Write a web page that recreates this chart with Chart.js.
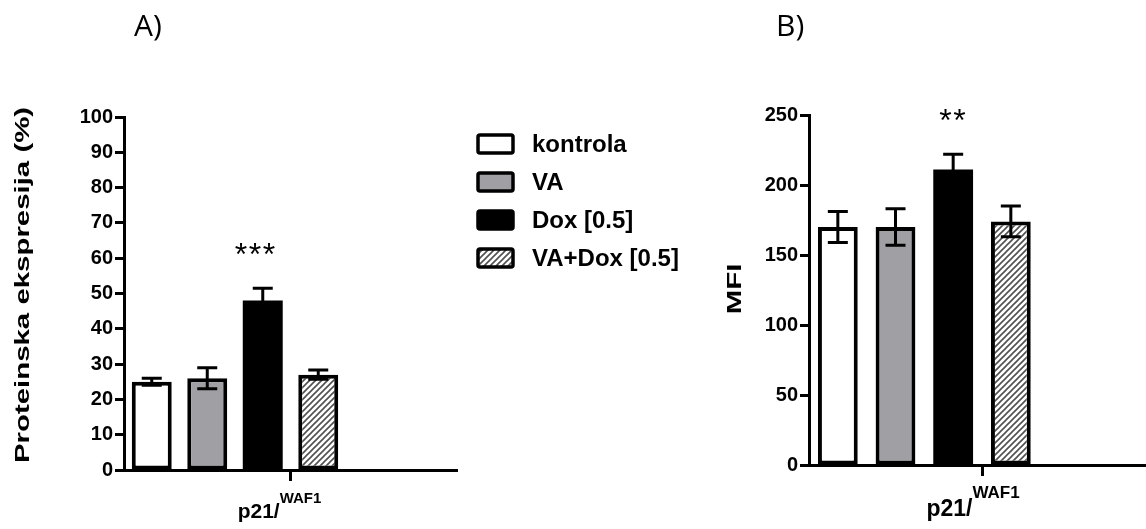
<!DOCTYPE html>
<html>
<head>
<meta charset="utf-8">
<script src="https://cdn.jsdelivr.net/npm/chart.js@4.4.1/dist/chart.umd.min.js"></script>
<style>
  html, body { margin:0; padding:0; background:#fff; overflow:hidden; width:1146px; height:529px; }
  #wrapA { position:absolute; left:0; top:0; width:740px; height:529px; }
  #wrapB { position:absolute; left:700px; top:0; width:460px; height:529px; }
</style>
</head>
<body>
<div id="wrapA"><canvas id="chartA" width="740" height="529"></canvas></div>
<div id="wrapB"><canvas id="chartB" width="460" height="529"></canvas></div>
<script>
// ---- data ----
const groups = ['kontrola', 'VA', 'Dox [0.5]', 'VA+Dox [0.5]'];
const emptySlots = [' ', '  '];
const proteinValues = [25, 26, 48, 27];
const proteinErrors = [1.0, 3.0, 3.5, 1.3];
const mfiValues = [170, 170, 211, 174];
const mfiErrors = [11, 13, 11, 11];
const proteinTicks = { min: 0, max: 100, step: 10 };
const mfiTicks = { min: 0, max: 250, step: 50 };
const proteinSig = ['', '', '***', ''];
const proteinSigAt = [null, null, 62.5, null];
const mfiSig = ['', '', '**', ''];
const mfiSigAt = [null, null, 250, null];
const panelA = 'A)';
const panelB = 'B)';
const yTitleA = 'Proteinska ekspresija (%)';
const yTitleB = 'MFI';
const xMain = 'p21/';
const xSup = 'WAF1';

const FONT = "'Liberation Sans', Arial, sans-serif";
Chart.defaults.font.family = FONT;
Chart.defaults.color = '#000';

function makeHatch() {
  const c = document.createElement('canvas');
  c.width = 6; c.height = 6;
  const g = c.getContext('2d');
  g.fillStyle = '#fff'; g.fillRect(0, 0, 6, 6);
  g.strokeStyle = '#505050'; g.lineWidth = 1.6;
  g.beginPath();
  g.moveTo(-1, 7); g.lineTo(7, -1);
  g.moveTo(-4, 4); g.lineTo(4, -4);
  g.moveTo(2, 10); g.lineTo(10, 2);
  g.stroke();
  return document.createElement('canvas').getContext('2d').createPattern(c, 'repeat');
}
const hatch = makeHatch();
const fills = ['#ffffff', '#a0a0a4', '#000000', hatch];
const borders = [4, 4, 0, 4];

const decorPlugin = {
  id: 'decor',
  afterDatasetsDraw(chart, args, opts) {
    const ctx = chart.ctx;
    const meta = chart.getDatasetMeta(0);
    const ys = chart.scales.y;
    const xs = chart.scales.x;
    // error bars
    ctx.save();
    ctx.strokeStyle = '#000';
    ctx.lineWidth = 3;
    opts.values.forEach((v, i) => {
      const bar = meta.data[i];
      const e = opts.errors[i];
      const yt = ys.getPixelForValue(v + e);
      const yb = ys.getPixelForValue(v - e);
      ctx.beginPath();
      ctx.moveTo(bar.x, yt); ctx.lineTo(bar.x, yb);
      ctx.moveTo(bar.x - 10, yt); ctx.lineTo(bar.x + 10, yt);
      ctx.moveTo(bar.x - 10, yb); ctx.lineTo(bar.x + 10, yb);
      ctx.stroke();
    });
    // significance
    ctx.fillStyle = '#000';
    ctx.font = "32px " + FONT;
    ctx.textAlign = 'center';
    ctx.textBaseline = 'middle';
    try { ctx.letterSpacing = '1.5px'; } catch (e) {}
    opts.sig.forEach((s, i) => {
      if (!s) return;
      const bar = meta.data[i];
      ctx.fillText(s, bar.x + opts.sigDx, ys.getPixelForValue(opts.sigAt[i]) + 7);
    });
    try { ctx.letterSpacing = '0px'; } catch (e) {}
    // x label with superscript
    const cx = (xs.left + xs.right) / 2 + opts.labelDx;
    ctx.font = "bold " + opts.mainSize + "px " + FONT;
    const w1 = ctx.measureText(xMain).width;
    ctx.font = "bold " + opts.supSize + "px " + FONT;
    const w2 = ctx.measureText(xSup).width;
    const x0 = cx - (w1 + w2) / 2;
    ctx.textAlign = 'left';
    ctx.textBaseline = 'alphabetic';
    ctx.font = "bold " + opts.mainSize + "px " + FONT;
    ctx.fillText(xMain, x0, opts.mainBase);
    ctx.font = "bold " + opts.supSize + "px " + FONT;
    ctx.fillText(xSup, x0 + w1, opts.supBase);
    // y title (stretched along its length)
    ctx.save();
    ctx.translate(opts.titleX, opts.titleY);
    ctx.rotate(-Math.PI / 2);
    ctx.scale(1.4, 1);
    ctx.font = "bold 21px " + FONT;
    ctx.textAlign = 'center';
    ctx.textBaseline = 'middle';
    ctx.fillText(opts.title, 0, 0);
    ctx.restore();
    // panel letter
    ctx.font = "30px 'Open Sans', Lato, sans-serif";
    ctx.textAlign = 'left';
    ctx.textBaseline = 'alphabetic';
    ctx.fillText(opts.panel, opts.panelX, 36);
    // legend
    if (opts.legend) {
      const lx = 478, ly0 = 144, step = 38;
      groups.forEach((g, i) => {
        const y = ly0 + i * step;
        ctx.fillStyle = fills[i];
        ctx.fillRect(lx, y - 9, 35, 18);
        ctx.strokeStyle = '#000';
        ctx.lineWidth = 3.5;
        ctx.beginPath();
        ctx.roundRect(lx, y - 9, 35, 18, 2);
        ctx.stroke();
        ctx.fillStyle = '#000';
        ctx.font = "bold 24px " + FONT;
        ctx.textBaseline = 'middle';
        ctx.fillText(g, 532, y + 1);
      });
    }
    ctx.restore();
  }
};

function buildChart(id, values, ticks, yWidth, xHeight, padTop, padRight, catPct, decor) {
  return new Chart(document.getElementById(id), {
    type: 'bar',
    data: {
      labels: [...groups, ...emptySlots],
      datasets: [{
        data: [...values, null, null],
        backgroundColor: fills,
        borderColor: '#000',
        borderWidth: borders,
        borderSkipped: false,
        barPercentage: 1,
        categoryPercentage: catPct
      }]
    },
    options: {
      responsive: false,
      animation: false,
      events: [],
      layout: { padding: { top: padTop, right: padRight, left: 0, bottom: 0 } },
      plugins: { legend: { display: false }, tooltip: { enabled: false }, decor: decor },
      scales: {
        x: {
          offset: true,
          ticks: { display: false },
          grid: {
            offset: true,
            drawOnChartArea: false,
            drawTicks: true,
            tickLength: 11,
            tickWidth: 3,
            tickColor: (c) => c.index === 3 ? '#000' : 'rgba(0,0,0,0)',
            color: 'rgba(0,0,0,0)'
          },
          border: { display: true, color: '#000', width: 3 },
          afterFit: (s) => { s.height = xHeight; }
        },
        y: {
          min: ticks.min, max: ticks.max,
          ticks: { stepSize: ticks.step, padding: 2, color: '#000', font: { size: 20, weight: 'bold' } },
          grid: { drawOnChartArea: false, drawTicks: true, tickLength: 9, tickWidth: 3, color: '#000', tickColor: '#000' },
          border: { display: true, color: '#000', width: 3 },
          afterFit: (s) => { s.width = yWidth; }
        }
      }
    },
    plugins: [decorPlugin]
  });
}

buildChart('chartA', proteinValues, proteinTicks, 124, 59, 117, 283, 0.72, {
  values: proteinValues, errors: proteinErrors, sig: proteinSig, sigAt: proteinSigAt, sigDx: -7,
  title: yTitleA, titleX: 23, titleY: 285, panel: panelA, panelX: 134, legend: true,
  labelDx: -11, mainSize: 21, supSize: 15, mainBase: 518, supBase: 503
});
buildChart('chartB', mfiValues, mfiTicks, 109, 64, 115, 5, 0.69, {
  values: mfiValues, errors: mfiErrors, sig: mfiSig, sigAt: mfiSigAt, sigDx: 0,
  title: yTitleB, titleX: 35.5, titleY: 289, panel: panelB, panelX: 76, legend: false,
  labelDx: -9, mainSize: 23, supSize: 17, mainBase: 516, supBase: 498
});
</script>
</body>
</html>
